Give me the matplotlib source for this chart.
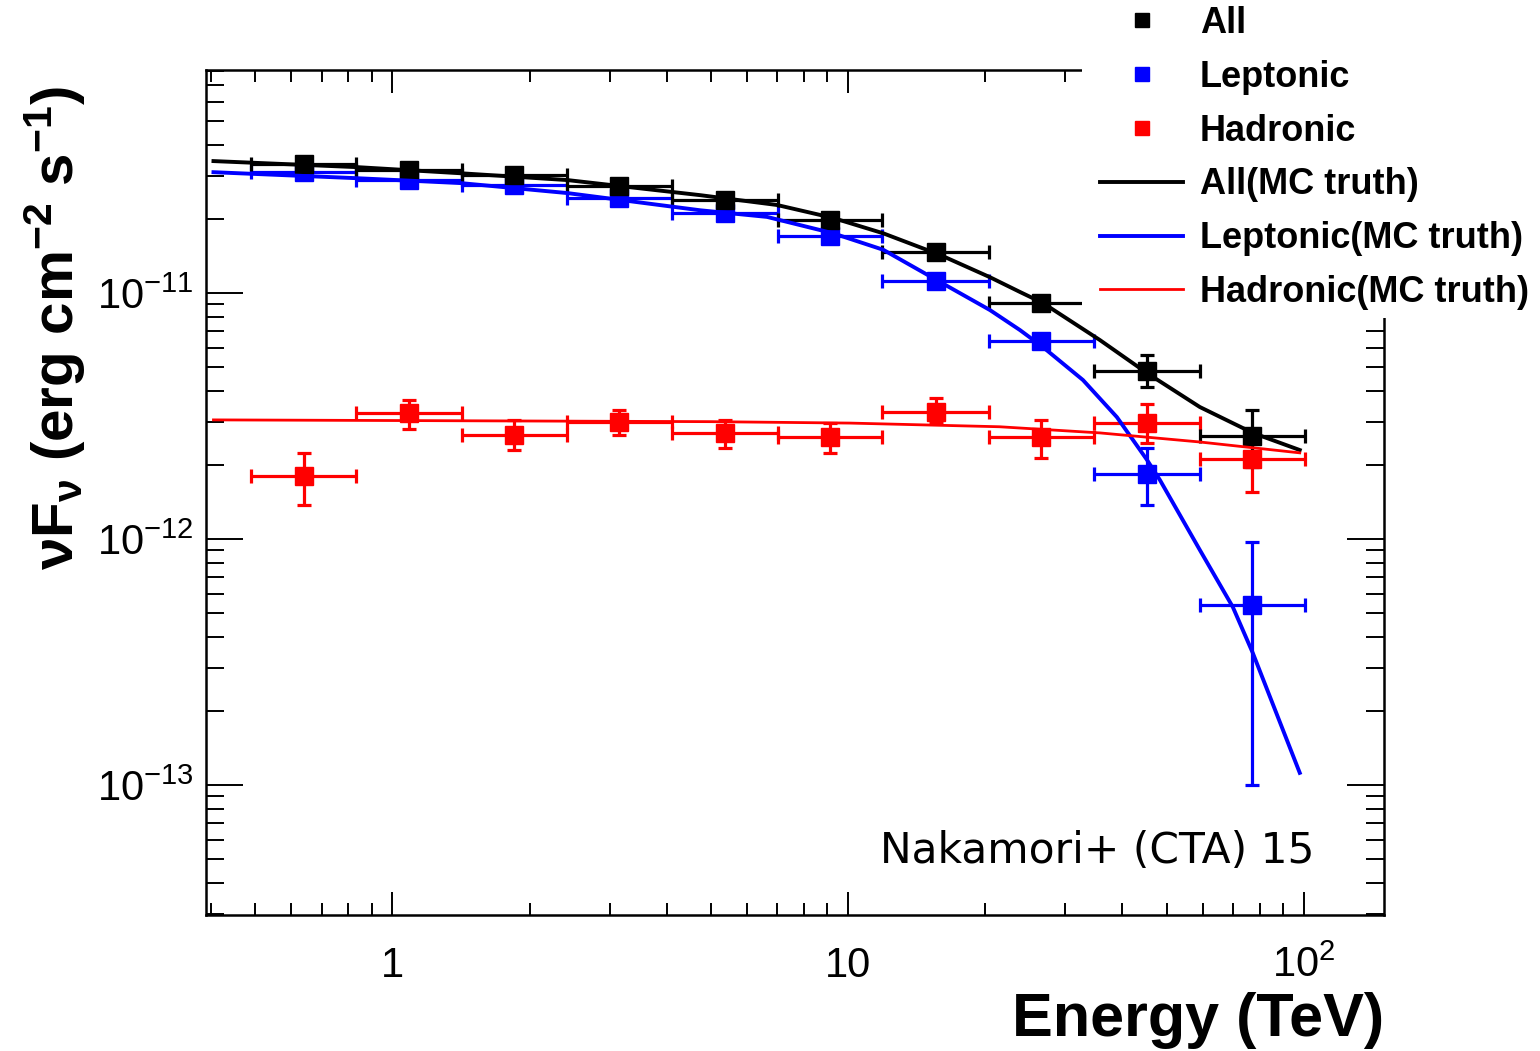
import matplotlib
matplotlib.use("Agg")
import matplotlib.pyplot as plt
from matplotlib.lines import Line2D
from matplotlib.patches import Rectangle
from matplotlib.ticker import LogLocator, FixedLocator, FixedFormatter, NullFormatter
import numpy as np

plt.rcParams['font.family'] = ['Liberation Sans', 'DejaVu Sans']
plt.rcParams['mathtext.fontset'] = 'custom'
plt.rcParams['mathtext.rm'] = 'Liberation Sans'
plt.rcParams['mathtext.bf'] = 'Liberation Sans:bold'
plt.rcParams['mathtext.it'] = 'Liberation Sans:italic'
plt.rcParams['mathtext.default'] = 'regular'

# energy bins (TeV)
e_center = [0.64, 1.09, 1.85, 3.15, 5.37, 9.14, 15.6, 26.5, 45.3, 76.9]
e_low = [0.489, 0.834, 1.42, 2.42, 4.11, 7.02, 11.9, 20.4, 34.6, 59.1]
e_high = [0.834, 1.42, 2.42, 4.11, 7.02, 11.9, 20.4, 34.6, 59.1, 100.5]

# measured points (erg cm-2 s-1)
all_y = [3.35e-11, 3.16e-11, 3.02e-11, 2.72e-11, 2.39e-11, 1.98e-11, 1.47e-11, 9.1e-12, 4.8e-12, 2.62e-12]
all_lo = [3.29e-11, 3.10e-11, 2.96e-11, 2.66e-11, 2.33e-11, 1.92e-11, 1.42e-11, 8.7e-12, 4.15e-12, 1.96e-12]
all_hi = [3.41e-11, 3.22e-11, 3.08e-11, 2.78e-11, 2.45e-11, 2.04e-11, 1.52e-11, 9.5e-12, 5.6e-12, 3.35e-12]

lep_y = [3.1e-11, 2.88e-11, 2.75e-11, 2.43e-11, 2.11e-11, 1.71e-11, 1.12e-11, 6.38e-12, 1.84e-12, 5.4e-13]
lep_lo = [3.05e-11, 2.83e-11, 2.70e-11, 2.38e-11, 2.06e-11, 1.66e-11, 1.08e-11, 6.1e-12, 1.37e-12, 1.0e-13]
lep_hi = [3.15e-11, 2.93e-11, 2.80e-11, 2.48e-11, 2.16e-11, 1.76e-11, 1.16e-11, 6.7e-12, 2.34e-12, 9.7e-13]

had_y = [1.80e-12, 3.25e-12, 2.64e-12, 2.98e-12, 2.70e-12, 2.60e-12, 3.28e-12, 2.60e-12, 2.96e-12, 2.12e-12]
had_lo = [1.37e-12, 2.80e-12, 2.30e-12, 2.64e-12, 2.35e-12, 2.23e-12, 2.96e-12, 2.13e-12, 2.46e-12, 1.55e-12]
had_hi = [2.24e-12, 3.67e-12, 3.05e-12, 3.35e-12, 3.05e-12, 2.96e-12, 3.74e-12, 3.05e-12, 3.54e-12, 2.77e-12]

# MC truth curves
all_mc_e = [0.405, 0.838, 1.41, 2.42, 4.74, 6.99, 9.27, 11.94, 15.91, 20.48, 23.84, 26.77, 35.7, 45.27, 59.16, 77.3, 98.0]
all_mc_y = [3.44e-11, 3.25e-11, 3.07e-11, 2.88e-11, 2.50e-11, 2.28e-11, 2.02e-11, 1.75e-11, 1.43e-11,
            1.16e-11, 1.01e-11, 9.11e-12, 6.44e-12, 4.73e-12, 3.44e-12, 2.70e-12, 2.30e-12]

lep_mc_e = [0.405, 0.838, 1.41, 2.42, 4.74, 6.64, 9.27, 11.94, 15.91, 20.48, 23.84, 26.77, 32.77, 38.9,
            45.27, 48.32, 59.16, 69.88, 77.3, 98.0]
lep_mc_y = [3.10e-11, 2.93e-11, 2.80e-11, 2.55e-11, 2.17e-11, 2.04e-11, 1.75e-11, 1.50e-11, 1.11e-11,
            8.53e-12, 7.07e-12, 6.03e-12, 4.43e-12, 3.13e-12, 2.10e-12, 1.74e-12, 9.02e-13, 5.29e-13,
            3.44e-13, 1.12e-13]

had_mc_e = [0.405, 5.0, 10.1, 21.5, 35.7, 59.16, 98.0]
had_mc_y = [3.05e-12, 3.0e-12, 2.96e-12, 2.86e-12, 2.70e-12, 2.48e-12, 2.24e-12]

W, H = 1540, 1051
fig = plt.figure(figsize=(15.4, 10.51), dpi=100)
ax = fig.add_axes([206 / W, 1 - 915 / H, (1384 - 206) / W, (915 - 70) / H])

ex = np.array(e_center)
xerr = [ex - np.array(e_low), np.array(e_high) - ex]

def draw_points(y, lo, hi, color):
    y = np.array(y)
    yerr = [y - np.array(lo), np.array(hi) - y]
    ax.errorbar(ex, y, xerr=xerr, yerr=yerr, fmt='s', color=color, ms=12.5,
                elinewidth=2.3, capsize=4.7, capthick=2.3, zorder=3)

draw_points(had_y, had_lo, had_hi, '#ff0000')
draw_points(lep_y, lep_lo, lep_hi, '#0000ff')
draw_points(all_y, all_lo, all_hi, 'black')

ax.plot(all_mc_e, all_mc_y, color='black', lw=2.8, zorder=4)
ax.plot(lep_mc_e, lep_mc_y, color='#0000ff', lw=2.8, zorder=4)
ax.plot(had_mc_e, had_mc_y, color='#ff0000', lw=2.0, zorder=4)

ax.set_xscale('log')
ax.set_yscale('log')
ax.set_xlim(0.39, 150)
ax.set_ylim(2.96e-14, 8.07e-11)

ax.xaxis.set_major_locator(FixedLocator([1, 10, 100]))
ax.xaxis.set_major_formatter(FixedFormatter(['1', '10', '10$^{2}$']))
ax.xaxis.set_minor_locator(LogLocator(base=10, subs=np.arange(2, 10)))
ax.xaxis.set_minor_formatter(NullFormatter())
ax.yaxis.set_major_locator(FixedLocator([1e-13, 1e-12, 1e-11]))
ax.yaxis.set_major_formatter(FixedFormatter(['10$^{-13}$', '10$^{-12}$', '10$^{-11}$']))
ax.yaxis.set_minor_locator(LogLocator(base=10, subs=np.arange(2, 10)))
ax.yaxis.set_minor_formatter(NullFormatter())

ax.tick_params(which='both', direction='in', top=True, right=True, width=1.4, labelsize=30)
ax.tick_params(axis='x', which='major', length=16.5, pad=22)
ax.tick_params(axis='x', which='minor', length=8.6)
ax.tick_params(axis='y', which='major', length=26.6, pad=9)
ax.tick_params(axis='y', which='minor', length=13)
for s in ax.spines.values():
    s.set_linewidth(1.8)

ax.set_xlabel('Energy (TeV)', fontsize=44, fontweight='bold', loc='right')
ax.set_ylabel(r'$\mathbf{\nu F_{\nu}}$ (erg cm$^{\mathbf{-2}}$ s$^{\mathbf{-1}}$)',
              fontsize=42, fontweight='bold', loc='top')
ax.yaxis.set_label_coords(-0.100, 0.982)

ax.text(1314 / W, 1 - 851 / H, 'Nakamori+ (CTA) 15', transform=fig.transFigure,
        ha='right', va='center', fontsize=30.5, family='DejaVu Sans')

# white legend pad covering the top-right corner of the frame
ax.add_patch(Rectangle((1082 / W, 1 - 318 / H), (W - 1082) / W, 318 / H, transform=fig.transFigure,
                       facecolor='white', edgecolor='none', clip_on=False, zorder=9))

handles = [
    Line2D([], [], marker='s', ls='none', color='black', ms=10),
    Line2D([], [], marker='s', ls='none', color='#0000ff', ms=10),
    Line2D([], [], marker='s', ls='none', color='#ff0000', ms=10),
    Line2D([], [], color='black', lw=2.8),
    Line2D([], [], color='#0000ff', lw=2.8),
    Line2D([], [], color='#ff0000', lw=2.0),
]
labels = ['All', 'Leptonic', 'Hadronic', 'All(MC truth)', 'Leptonic(MC truth)', 'Hadronic(MC truth)']
leg = ax.legend(handles, labels, loc='upper left', bbox_to_anchor=(1082 / W, 1 + 12 / H),
                bbox_transform=fig.transFigure, frameon=False, borderaxespad=0, borderpad=0.5,
                prop={'weight': 'bold', 'size': 26}, handlelength=2.3, handletextpad=0.47,
                labelspacing=0.52)
leg.set_zorder(10)

fig.savefig('out.png', dpi=100)
